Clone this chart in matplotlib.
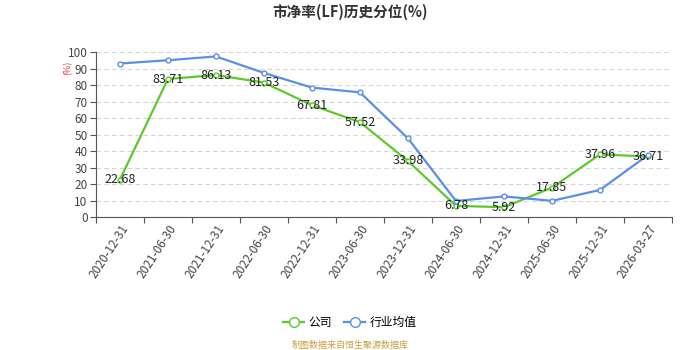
import matplotlib.pyplot as plt
import numpy as np

plt.rcParams['font.family'] = ['Noto Sans CJK SC', 'DejaVu Sans']

dates = ["2020-12-31", "2021-06-30", "2021-12-31", "2022-06-30", "2022-12-31", "2023-06-30",
         "2023-12-31", "2024-06-30", "2024-12-31", "2025-06-30", "2025-12-31", "2026-03-27"]
company = [22.68, 83.71, 86.13, 81.53, 67.81, 57.52, 33.98, 6.78, 5.92, 17.85, 37.96, 36.71]
industry = [93.1, 95.1, 97.4, 87.4, 78.5, 75.6, 47.7, 9.7, 12.5, 9.8, 16.4, 37.6]

GREEN = "#5bcb2c"
BLUE = "#5b8ee8"

fig = plt.figure(figsize=(7, 3.5), dpi=100)
ax = fig.add_axes([0.137, 0.38, 0.823, 0.471])

x = np.arange(len(dates))
ax.plot(x, company, color=GREEN, lw=1.6, marker="o", ms=3.5, mfc="white", mec=GREEN, mew=1, label="公司", zorder=3)
ax.plot(x, industry, color=BLUE, lw=1.6, marker="o", ms=3.5, mfc="white", mec=BLUE, mew=1, label="行业均值", zorder=3)

# value labels on the company line
for xi, v in zip(x, company):
    ax.text(xi, v, f"{v:.2f}", ha="center", va="center", fontsize=9, color="#222222", zorder=4)

ax.set_xlim(-0.5, len(dates) - 0.5)
ax.set_ylim(0, 100)
ax.set_yticks(range(0, 101, 10))
ax.set_xticks(np.arange(-0.5, len(dates), 1))
ax.set_xticklabels([])
ax.set_xticks(x, minor=True)
ax.set_xticklabels(dates, minor=True, rotation=57, ha="right", rotation_mode="anchor", fontsize=8.5, color="#444444")
ax.tick_params(axis="x", which="minor", length=0, pad=4)
ax.tick_params(axis="x", which="major", length=4, color="#555555")
ax.tick_params(axis="y", length=4, color="#555555", labelsize=8.5, labelcolor="#444444", pad=2)

ax.grid(axis="y", ls=(0, (4, 3)), color="#d5d5d5", lw=0.8)
ax.set_axisbelow(True)
for s in ["top", "right"]:
    ax.spines[s].set_visible(False)
ax.spines["left"].set_color("#555555")
ax.spines["bottom"].set_color("#555555")

fig.text(0.5, 0.965, "市净率(LF)历史分位(%)", ha="center", va="center", fontsize=10.5, fontweight="bold", color="#333333")
fig.text(0.097, 0.806, "(%)", ha="center", va="center", fontsize=6.5, color="#e03030", rotation=90)

fig.legend(loc="center", bbox_to_anchor=(0.5, 0.078), ncol=2, frameon=False, fontsize=8.5,
           handlelength=1.8, columnspacing=1.0, handletextpad=0.4, markerscale=2.0)
fig.text(0.5, 0.014, "制图数据来自恒生聚源数据库", ha="center", va="center", fontsize=6.5, color="#c8a040")

fig.savefig("out.png", dpi=100)
